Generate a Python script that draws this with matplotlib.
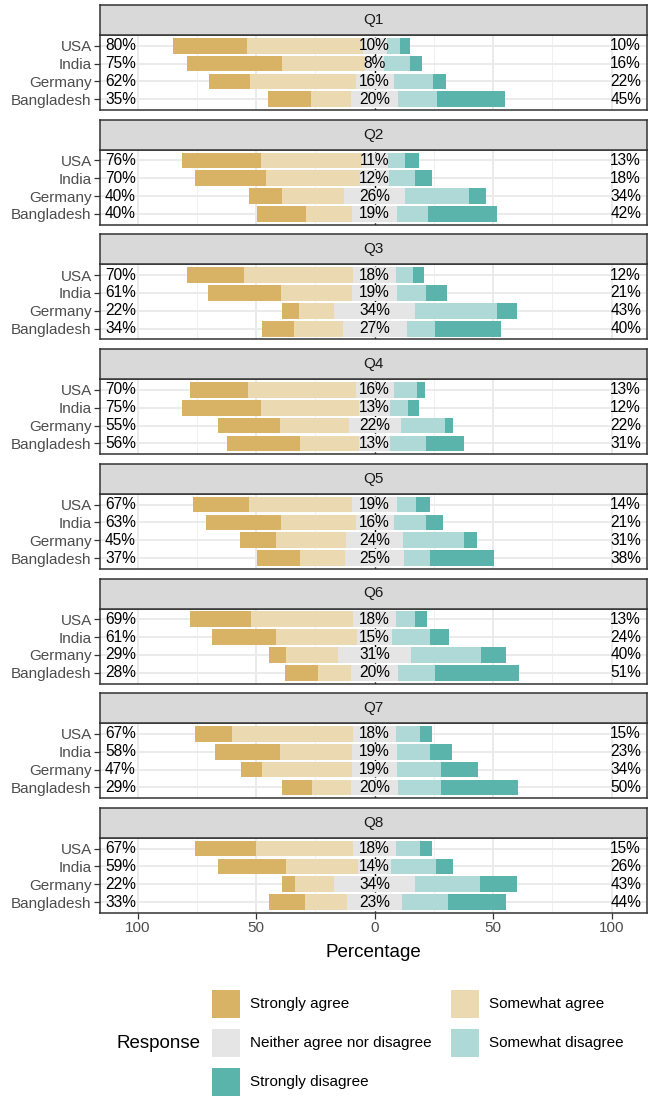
import matplotlib
matplotlib.use("Agg")
import matplotlib.pyplot as plt
from matplotlib.patches import Rectangle

plt.rcParams['font.family'] = ['Liberation Sans', 'DejaVu Sans']

questions = ["Q1", "Q2", "Q3", "Q4", "Q5", "Q6", "Q7", "Q8"]
countries = ["USA", "India", "Germany", "Bangladesh"]
levels = ["Strongly agree", "Somewhat agree", "Neither agree nor disagree",
          "Somewhat disagree", "Strongly disagree"]
colors = ["#D8B365", "#EAD9B1", "#E5E5E5", "#AED9D6", "#5AB4AC"]

# values per question: [USA, India, Germany, Bangladesh]
strongly_agree = [
    [31, 40, 17.5, 18.3],
    [33.5, 30, 13.7, 20.5],
    [24, 31, 7, 13.5],
    [24.5, 33.5, 26, 31],
    [23.5, 31.5, 15.5, 18],
    [26, 27, 7, 14],
    [16, 27.5, 9, 12.5],
    [26, 28.5, 5.5, 15],
]
somewhat_agree = [
    [49, 35, 44.5, 16.7],
    [42.5, 40, 26.3, 19.5],
    [46, 30, 15, 20.5],
    [45.5, 41.5, 29, 25],
    [43.5, 31.5, 29.5, 19],
    [43, 34, 22, 14],
    [51, 30.5, 38, 16.5],
    [41, 30.5, 16.5, 18],
]
neutral = [
    [10, 8, 16, 20],
    [11, 12, 26, 19],
    [18, 19, 34, 27],
    [16, 13, 22, 13],
    [19, 16, 24, 25],
    [18, 15, 31, 20],
    [18, 19, 19, 20],
    [18, 14, 34, 23],
]
somewhat_disagree = [
    [5.5, 11, 16.5, 16.5],
    [7.5, 11, 27, 13],
    [7, 12, 34.5, 12],
    [9.7, 7.5, 18.5, 15],
    [8, 13.5, 25.5, 11],
    [8, 16, 29.5, 15.5],
    [10, 14, 18.5, 17.8],
    [10, 19, 27.5, 19.5],
]
strongly_disagree = [
    [4.5, 5, 5.5, 28.5],
    [5.5, 7, 7, 29],
    [5, 9, 8.7, 28],
    [3.5, 4.5, 3.7, 16],
    [6, 7.5, 5.5, 27],
    [5, 8, 10.5, 35.5],
    [5, 9, 15.5, 32.5],
    [5, 7, 15.5, 24.5],
]

W, H = 648, 1097
fig = plt.figure(figsize=(W / 100, H / 100), dpi=100)

def fx(px):
    return px / W

def fh(px):
    return px / H

panel_left, panel_right = 100, 647
pitch = 114.7
strip_top0, strip_h, panel_h = 5, 30, 75

xlim = (-115.9, 114.9)
ypos = [4, 3, 2, 1]
bar_h = 0.88
text_col = "#1A1A1A"
axis_col = "#4D4D4D"

for qi, q in enumerate(questions):
    stop = strip_top0 + qi * pitch
    ptop = stop + strip_h
    pbot = ptop + panel_h
    ax = fig.add_axes([fx(panel_left), 1 - fh(pbot), fx(panel_right - panel_left), fh(panel_h)])
    sax = fig.add_axes([fx(panel_left), 1 - fh(ptop), fx(panel_right - panel_left), fh(strip_h)])

    # strip
    sax.set_facecolor("#D9D9D9")
    sax.set_xticks([]); sax.set_yticks([])
    for sp in sax.spines.values():
        sp.set_color("#333333"); sp.set_linewidth(1.1)
    sax.text(0.5, 0.5, q, ha="center", va="center", fontsize=11, color=text_col,
             transform=sax.transAxes)

    ax.set_xlim(*xlim)
    ax.set_ylim(0.4, 4.6)
    # grid
    for xv in [-75, -25, 25, 75]:
        ax.axvline(xv, color="#F0F0F0", lw=0.7, zorder=0.5)
    for xv in [-100, -50, 50, 100]:
        ax.axvline(xv, color="#EBEBEB", lw=1.4, zorder=0.5)
    for yv in ypos:
        ax.axhline(yv, color="#EBEBEB", lw=1.4, zorder=0.5)
    ax.axvline(0, color="black", lw=1.0, ls=(0, (1.5, 1.5)), zorder=1)

    for ci, c in enumerate(countries):
        y = ypos[ci]
        sa = strongly_agree[qi][ci]
        swa = somewhat_agree[qi][ci]
        n = neutral[qi][ci]
        swd = somewhat_disagree[qi][ci]
        sd = strongly_disagree[qi][ci]
        ax.barh(y, swa, left=-n / 2 - swa, height=bar_h, color=colors[1], zorder=2, lw=0)
        ax.barh(y, sa, left=-n / 2 - swa - sa, height=bar_h, color=colors[0], zorder=2, lw=0)
        ax.barh(y, n, left=-n / 2, height=bar_h, color=colors[2], zorder=2, lw=0)
        ax.barh(y, swd, left=n / 2, height=bar_h, color=colors[3], zorder=2, lw=0)
        ax.barh(y, sd, left=n / 2 + swd, height=bar_h, color=colors[4], zorder=2, lw=0)
        ax.text(-113.8, y, f"{round(sa + swa)}%", ha="left", va="center",
                fontsize=11.2, color="black", zorder=3)
        ax.text(0, y, f"{round(n)}%", ha="center", va="center",
                fontsize=11.2, color="black", zorder=3)
        ax.text(112.4, y, f"{round(swd + sd)}%", ha="right", va="center",
                fontsize=11.2, color="black", zorder=3)

    ax.set_yticks(ypos)
    ax.set_yticklabels(countries, fontsize=11, color=axis_col)
    ax.tick_params(axis="y", length=4, width=0.9, color="#333333", pad=2)
    ax.set_xticks([-100, -50, 0, 50, 100])
    if qi == len(questions) - 1:
        ax.set_xticklabels(["100", "50", "0", "50", "100"], fontsize=11, color=axis_col)
        ax.tick_params(axis="x", length=4, width=0.9, color="#333333", pad=2)
        ax.set_xlabel("Percentage", fontsize=13.5, color="black", labelpad=6)
    else:
        ax.tick_params(axis="x", length=0, labelbottom=False)
    for sp in ax.spines.values():
        sp.set_color("#333333"); sp.set_linewidth(1.1)
    ax.set_facecolor("white")

# legend (drawn manually, ggplot-style with title on the left)
fig.text(fx(116), 1 - fh(1043), "Response", ha="left", va="center", fontsize=13.5, color="black")
key_w = 28
legend_items = [
    (0, 212, 1004), (1, 451, 1004),
    (2, 212, 1043), (3, 451, 1043),
    (4, 212, 1082),
]
for li, kx, ky in legend_items:
    fig.patches.append(Rectangle((fx(kx), 1 - fh(ky + key_w / 2)), fx(key_w), fh(key_w),
                                 transform=fig.transFigure, facecolor=colors[li],
                                 edgecolor="none"))
    fig.text(fx(kx + 38), 1 - fh(ky), levels[li], ha="left", va="center",
             fontsize=11, color="black")

fig.savefig("out.png", dpi=100)
